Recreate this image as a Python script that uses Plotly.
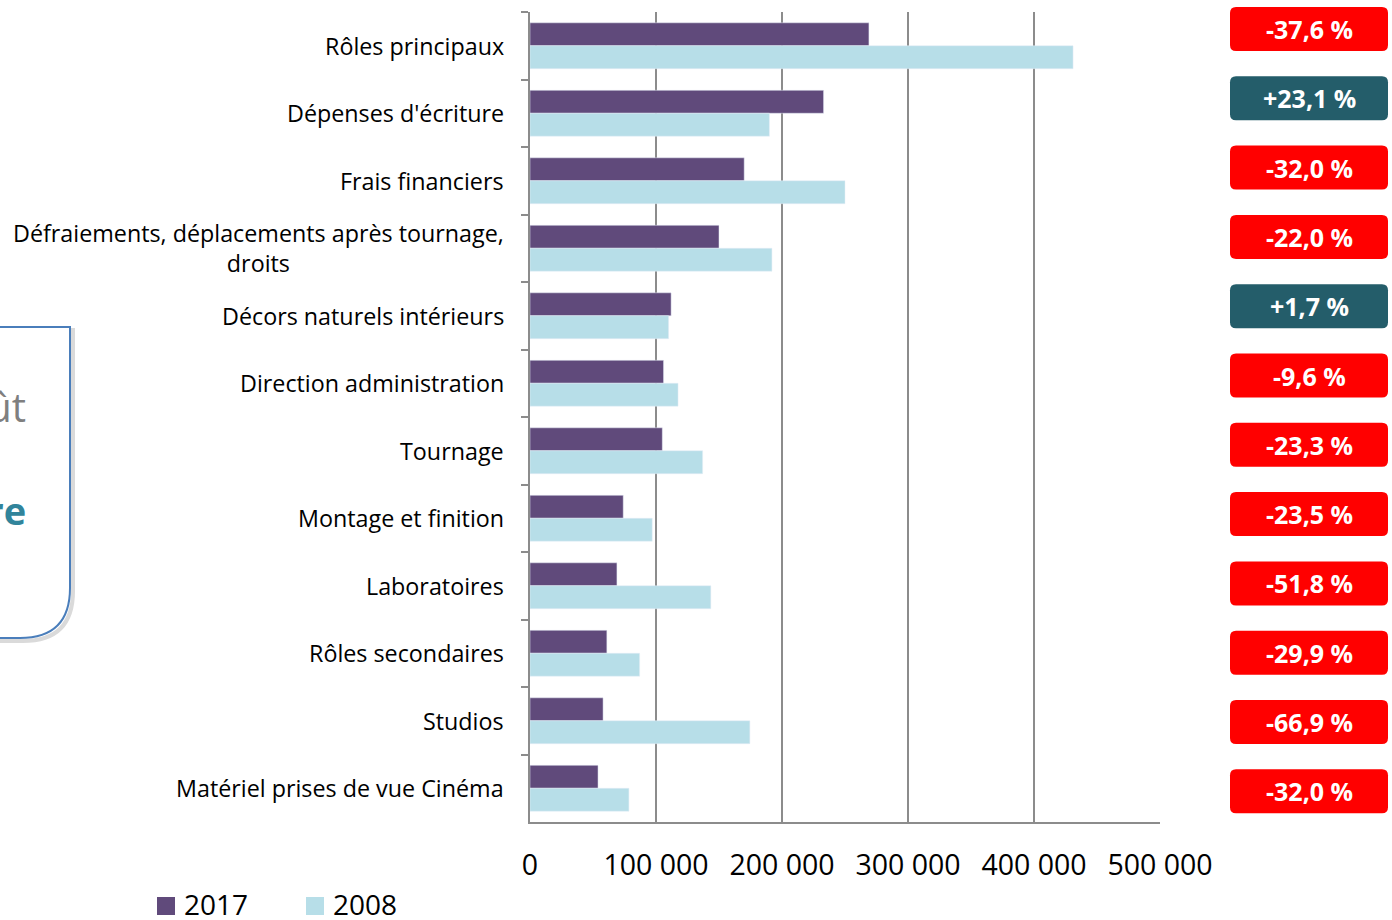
import plotly.graph_objects as go

# Data
categories = [
    "Rôles principaux",
    "Dépenses d'écriture",
    "Frais financiers",
    "Défraiements, déplacements après tournage,<br>droits",
    "Décors naturels intérieurs",
    "Direction administration",
    "Tournage",
    "Montage et finition",
    "Laboratoires",
    "Rôles secondaires",
    "Studios",
    "Matériel prises de vue Cinéma",
]
series_names = ["2017", "2008"]
values_2017 = [269000, 233000, 170000, 150000, 112000, 106000, 105000, 74000, 69000, 61000, 58000, 54000]
values_2008 = [431000, 190000, 250000, 192000, 110000, 117500, 137000, 97000, 143500, 87000, 174500, 78500]
changes = ["-37,6 %", "+23,1 %", "-32,0 %", "-22,0 %", "+1,7 %", "-9,6 %",
           "-23,3 %", "-23,5 %", "-51,8 %", "-29,9 %", "-66,9 %", "-32,0 %"]
x_ticks = [0, 100000, 200000, 300000, 400000, 500000]

COLOR_2017 = "#604A7B"
COLOR_2008 = "#B7DEE8"
RED = "#FF0000"
TEAL = "#245D6A"
GRID = "#8C8C8C"
FONT = "Open Sans"

W, H = 1392, 920
L, T = 530, 12
R, B = W - 1160, H - 822
PW, PH = W - L - R, H - T - B


def px_x(p):
    # screen pixel -> paper x
    return (p - L) / PW


def px_y(p):
    # screen pixel -> paper y
    return (H - B - p) / PH


def rounded_rect(xa, ya, xb, yb, r):
    # path in paper coords for a box given in pixels (xa<xb, ya<yb)
    x0, x1, y0, y1 = px_x(xa), px_x(xb), px_y(yb), px_y(ya)
    rx, ry = r / PW, r / PH
    return (f"M {x0 + rx} {y1} L {x1 - rx} {y1} Q {x1} {y1} {x1} {y1 - ry} "
            f"L {x1} {y0 + ry} Q {x1} {y0} {x1 - rx} {y0} L {x0 + rx} {y0} "
            f"Q {x0} {y0} {x0} {y0 + ry} L {x0} {y1 - ry} Q {x0} {y1} {x0 + rx} {y1} Z")


fig = go.Figure()
fig.add_trace(go.Bar(y=categories, x=values_2017, name=series_names[0], orientation="h",
                     marker_color=COLOR_2017))
fig.add_trace(go.Bar(y=categories, x=values_2008, name=series_names[1], orientation="h",
                     marker_color=COLOR_2008))

# category labels, centered when wrapped
for cat in categories:
    fig.add_annotation(x=px_x(506), xref="paper", y=cat, yref="y", text=cat,
                       showarrow=False, xanchor="right", yanchor="middle", align="center",
                       font=dict(family=FONT, size=23.3, color="#000000"))

# change badges on the right
for i, txt in enumerate(changes):
    cy = 29 + i * 69.3
    color = TEAL if txt.startswith("+") else RED
    fig.add_shape(type="path", path=rounded_rect(1230, cy - 22, 1388, cy + 22, 6),
                  xref="paper", yref="paper", fillcolor=color, line=dict(width=0), layer="above")
    fig.add_annotation(x=px_x(1309), y=px_y(cy), xref="paper", yref="paper",
                       text=f"<b>{txt}</b>", showarrow=False,
                       xanchor="center", yanchor="middle",
                       font=dict(family=FONT, size=25, color="white"))

# legend drawn by hand so it sits exactly under the chart
for name, col, lx in zip(series_names, [COLOR_2017, COLOR_2008], [157, 306]):
    fig.add_shape(type="rect", xref="paper", yref="paper",
                  x0=px_x(lx), x1=px_x(lx + 18), y0=px_y(915), y1=px_y(897),
                  fillcolor=col, line=dict(width=0))
    fig.add_annotation(x=px_x(lx + 25), y=px_y(904), xref="paper", yref="paper", text=name,
                       xanchor="left", yanchor="middle", showarrow=False,
                       font=dict(family=FONT, size=28, color="#000000"))

# fragment of a slide box cut by the left edge
def box_path(dx, dy):
    bx0, bx1, by0, by1 = px_x(-20 + dx), px_x(70 + dx), px_y(327 + dy), px_y(638 + dy)
    crx, cry = 50 / PW, 50 / PH
    return (f"M {bx0} {by0} L {bx1} {by0} L {bx1} {by1 + cry} "
            f"Q {bx1} {by1} {bx1 - crx} {by1} L {bx0} {by1}")


fig.add_shape(type="path", xref="paper", yref="paper", path=box_path(3, 3),
              line=dict(color="#DADADA", width=4), layer="below")
fig.add_shape(type="path", xref="paper", yref="paper", path=box_path(0, 0),
              line=dict(color="#4A7EBB", width=2), fillcolor="white", layer="below")
fig.add_annotation(x=px_x(28), y=px_y(407), xref="paper", yref="paper", text="coût",
                   xanchor="right", yanchor="middle", showarrow=False,
                   font=dict(family=FONT, size=40, color="#7F7F7F"))
fig.add_annotation(x=px_x(28), y=px_y(510), xref="paper", yref="paper", text="<b>hors filière</b>",
                   xanchor="right", yanchor="middle", showarrow=False,
                   font=dict(family=FONT, size=38, color="#31849B"))

fig.update_layout(
    width=W, height=H,
    margin=dict(l=L, r=R, t=T, b=B),
    barmode="group", bargap=0.32, bargroupgap=0,
    plot_bgcolor="white", paper_bgcolor="white",
    separators=", ",
    font=dict(family=FONT, color="#000000"),
    showlegend=False,
    xaxis=dict(range=[0, 500000], tickvals=x_ticks, tickformat=",d",
               showgrid=True, gridcolor=GRID, gridwidth=2,
               showline=True, linecolor=GRID, linewidth=2, mirror=False,
               zeroline=False, ticks="", ticklabelstandoff=17,
               tickfont=dict(family=FONT, size=28.5, color="#000000")),
    yaxis=dict(autorange="reversed", showticklabels=False, showgrid=False,
               showline=True, linecolor=GRID, linewidth=2,
               ticks="outside", tickson="boundaries", ticklen=7, tickcolor=GRID, tickwidth=2),
)

# drop the default 8px page margin so the figure fills the window exactly
fig.write_html("out.html", config={"displayModeBar": False},
               post_script="document.body.style.margin='0';")
